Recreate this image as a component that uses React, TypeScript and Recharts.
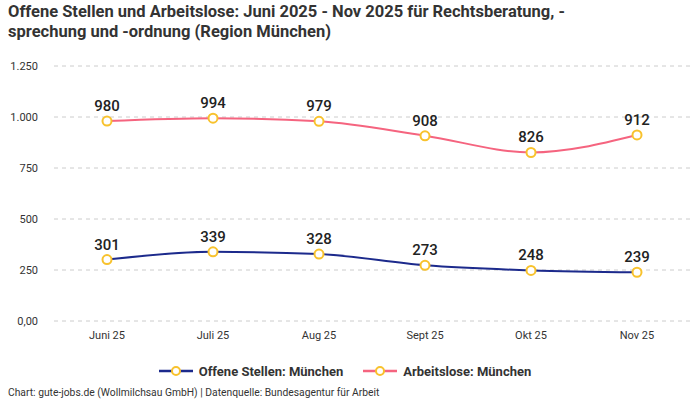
import React from "react";
import { LineChart, Line, XAxis, YAxis, CartesianGrid, LabelList, Legend } from "recharts";

const months = ["Juni 25", "Juli 25", "Aug 25", "Sept 25", "Okt 25", "Nov 25"];
const offeneStellen = [301, 339, 328, 273, 248, 239];
const arbeitslose = [980, 994, 979, 908, 826, 912];
const yTicks = [0, 250, 500, 750, 1000, 1250];

const data = months.map((m, i) => ({ month: m, offen: offeneStellen[i], arbeitslos: arbeitslose[i] }));

const NAVY = "#1c2a8c";
const PINK = "#f5647f";
const YELLOW = "#f8c22d";
const FONT = "Roboto, 'Noto Sans', sans-serif";

const fmtY = (v: number) => (v === 0 ? "0,00" : v.toLocaleString("de-DE"));

const legendItems = [
  { label: "Offene Stellen: München", color: NAVY },
  { label: "Arbeitslose: München", color: PINK },
];

const LegendContent = () => (
  <div style={{ display: "flex", justifyContent: "center", alignItems: "center", height: 20, fontFamily: FONT }}>
    {legendItems.map((it) => (
      <div key={it.label} style={{ display: "flex", alignItems: "center", margin: "0 10px" }}>
        <svg width={34} height={12} style={{ marginRight: 6 }}>
          <line x1={0} y1={6} x2={34} y2={6} stroke={it.color} strokeWidth={2.5} />
          <circle cx={17} cy={6} r={4} fill="#fff" stroke={YELLOW} strokeWidth={2} />
        </svg>
        <span style={{ fontSize: 13, fontWeight: 700, color: "#333" }}>{it.label}</span>
      </div>
    ))}
  </div>
);

const dotStyle = { r: 4.5, fill: "#fff", stroke: YELLOW, strokeWidth: 2 };

export default function App() {
  return (
    <div style={{ position: "absolute", left: 0, top: 0, width: 700, height: 400, background: "#fff", fontFamily: FONT }}>
      <div style={{ position: "absolute", left: 8, top: 2, fontSize: 16.5, fontWeight: 700, color: "#333", lineHeight: "20px", whiteSpace: "nowrap" }}>
        <div>Offene Stellen und Arbeitslose: Juni 2025 - Nov 2025 für Rechtsberatung, -</div>
        <div>sprechung und -ordnung (Region München)</div>
      </div>
      <LineChart width={700} height={400} data={data} margin={{ top: 66, right: 10, bottom: 19, left: 0 }}>
        <CartesianGrid vertical={false} stroke="#cccccc" strokeDasharray="4 4" />
        <XAxis
          dataKey="month"
          axisLine={false}
          tickLine={false}
          height={40}
          padding={{ left: 53, right: 53 }}
          tickMargin={4}
          tick={{ fontSize: 11, fill: "#333", fontFamily: FONT }}
        />
        <YAxis
          domain={[0, 1250]}
          ticks={yTicks}
          width={54}
          axisLine={false}
          tickLine={false}
          tickMargin={10}
          tickFormatter={fmtY}
          tick={{ fontSize: 11, fill: "#333", fontFamily: FONT }}
        />
        <Legend verticalAlign="bottom" content={<LegendContent />} />
        <Line type="monotone" dataKey="offen" stroke={NAVY} strokeWidth={2} dot={dotStyle} activeDot={false} isAnimationActive={false}>
          <LabelList dataKey="offen" position="top" offset={10} style={{ fontSize: 15, fontWeight: 500, fill: "#222", fontFamily: FONT }} />
        </Line>
        <Line type="monotone" dataKey="arbeitslos" stroke={PINK} strokeWidth={2} dot={dotStyle} activeDot={false} isAnimationActive={false}>
          <LabelList dataKey="arbeitslos" position="top" offset={10} style={{ fontSize: 15, fontWeight: 500, fill: "#222", fontFamily: FONT }} />
        </Line>
      </LineChart>
      <div style={{ position: "absolute", left: 8, top: 386, fontSize: 10.3, color: "#333", whiteSpace: "nowrap" }}>
        Chart: gute-jobs.de (Wollmilchsau GmbH) | Datenquelle: Bundesagentur für Arbeit
      </div>
    </div>
  );
}
